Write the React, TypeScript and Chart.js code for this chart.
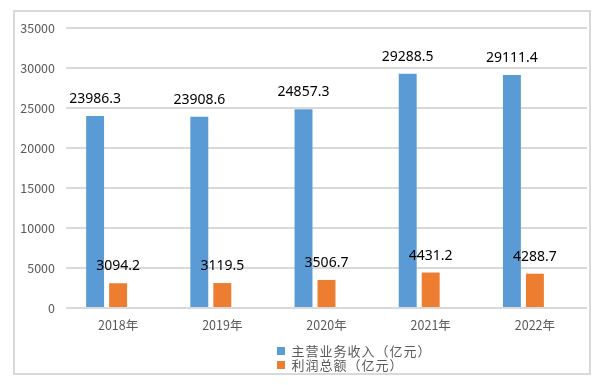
import React, { useEffect, useRef } from "react";
import { Chart, registerables } from "chart.js";

Chart.register(...registerables);

const categories = ["2018年", "2019年", "2020年", "2021年", "2022年"];
const revenue = [23986.3, 23908.6, 24857.3, 29288.5, 29111.4];
const profit = [3094.2, 3119.5, 3506.7, 4431.2, 4288.7];
const emptySeries = [null, null, null, null, null];
const seriesNames = ["主营业务收入（亿元）", "利润总额（亿元）"];
const seriesColors = ["#5B9BD5", "#ED7D31"];

const AXIS_FONT = "'Noto Sans CJK SC', 'Noto Sans', sans-serif";

const framePlugin = {
  id: "frame",
  beforeDraw(chart: any) {
    const ctx = chart.ctx;
    ctx.save();
    ctx.fillStyle = "#ffffff";
    ctx.fillRect(0, 0, chart.width, chart.height);
    ctx.strokeStyle = "#d9d9d9";
    ctx.lineWidth = 2;
    ctx.strokeRect(14, 11, 576, 363);
    ctx.restore();
  },
};

const labelPlugin = {
  id: "valueLabels",
  afterDatasetsDraw(chart: any) {
    const ctx = chart.ctx;
    ctx.save();
    ctx.font = "14px 'Noto Sans', sans-serif";
    ctx.fillStyle = "#000000";
    ctx.textAlign = "center";
    ctx.textBaseline = "middle";
    [0, 1].forEach((di) => {
      const meta = chart.getDatasetMeta(di);
      meta.data.forEach((bar: any, i: number) => {
        const v = chart.data.datasets[di].data[i];
        if (v == null) return;
        ctx.fillText(String(v.toFixed(1)), bar.x, bar.y - 17);
      });
    });
    ctx.restore();
  },
};

const legendPlugin = {
  id: "customLegend",
  afterDraw(chart: any) {
    const ctx = chart.ctx;
    ctx.save();
    ctx.font = "13px " + AXIS_FONT;
    ctx.textAlign = "center";
    ctx.textBaseline = "middle";
    seriesNames.forEach((name, i) => {
      const y = 351 + i * 14;
      ctx.fillStyle = seriesColors[i];
      ctx.fillRect(277, y - 4, 8, 8);
      ctx.fillStyle = "#595959";
      Array.from(name).forEach((ch, k) => {
        ctx.fillText(ch, 291 + 14 * k + 7, y);
      });
    });
    ctx.restore();
  },
};

export default function App() {
  const ref = useRef<HTMLCanvasElement | null>(null);
  useEffect(() => {
    if (!ref.current) return;
    const chart = new Chart(ref.current, {
      type: "bar",
      data: {
        labels: categories,
        datasets: [
          { label: seriesNames[0], data: revenue, backgroundColor: seriesColors[0] },
          { label: seriesNames[1], data: profit, backgroundColor: seriesColors[1] },
          { label: "", data: emptySeries as any, backgroundColor: "rgba(0,0,0,0)" },
        ],
      },
      options: {
        responsive: true,
        maintainAspectRatio: false,
        animation: false,
        devicePixelRatio: 1,
        layout: { padding: { left: 0, right: 17, top: 28, bottom: 0 } },
        datasets: { bar: { categoryPercentage: 0.662, barPercentage: 0.78 } },
        plugins: {
          legend: { display: false },
          tooltip: { enabled: false },
        },
        scales: {
          x: {
            grid: { display: false, drawTicks: false },
            border: { display: false },
            ticks: { color: "#595959", font: { family: AXIS_FONT, size: 12.5 }, padding: 10 },
            afterFit(scale: any) {
              scale.height = 77;
            },
          },
          y: {
            min: 0,
            max: 35000,
            ticks: {
              stepSize: 5000,
              color: "#595959",
              font: { family: AXIS_FONT, size: 12.5 },
              padding: 11,
              callback: (v: any) => String(v),
            },
            grid: { color: "#d9d9d9", lineWidth: 2, drawTicks: false },
            border: { display: false },
            afterFit(scale: any) {
              scale.width = 66;
            },
          },
        },
      },
      plugins: [framePlugin, labelPlugin, legendPlugin],
    });
    return () => chart.destroy();
  }, []);
  return (
    <div style={{ position: "fixed", left: 0, top: 0, width: 604, height: 385 }}>
      <canvas ref={ref} />
    </div>
  );
}
